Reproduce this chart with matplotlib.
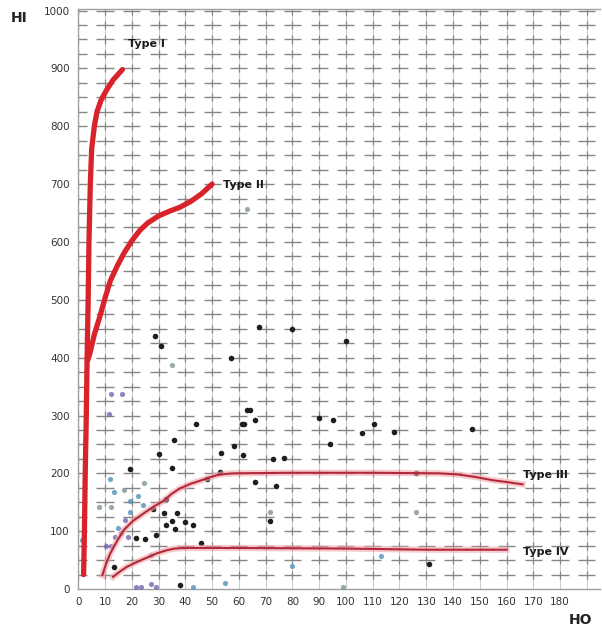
import numpy as np
import matplotlib
matplotlib.use("Agg")
import matplotlib.pyplot as plt

# --- curve data (HO, HI) ---
type1_x = [2, 2.3, 2.6, 3, 3.3, 3.7, 4, 4.5, 5, 6, 7, 8.5, 10.5, 13, 16.5]
type1_y = [25, 100, 200, 300, 400, 500, 600, 700, 760, 800, 825, 845, 862, 880, 898]

type2_x = [3.5, 4.5, 6, 8, 10, 12, 14.5, 17, 20, 23, 26, 30, 34, 38, 42, 46, 50]
type2_y = [395, 410, 440, 470, 503, 533, 558, 580, 602, 620, 633, 645, 653, 660, 670, 683, 700]

type3_x = [9, 10.5, 12, 14.5, 17, 20.5, 24.5, 28, 32, 35, 38, 42, 46, 49, 52, 55, 58,
           80, 110, 135, 142, 148, 155, 160, 166]
type3_y = [24, 45, 62, 83, 102, 118, 131, 142, 153, 165, 174, 182, 188, 193, 197, 199, 200,
           201, 201, 200, 198, 194, 188, 185, 181]

type4_x = [13, 15.5, 18, 22, 26, 29.5, 33, 36, 39.5, 60, 100, 130, 160]
type4_y = [21, 30, 38, 47, 55, 62, 67, 70, 71, 71, 70, 68, 68]

# --- scatter points ---
black_x = [28.5, 31, 57, 44, 35.6, 58, 63, 61, 67.4, 80, 100, 64, 66, 62, 90, 95,
           110.5, 106, 118, 147, 94, 61.4, 72.7, 77, 126, 66, 74, 71.5, 131,
           30, 19.5, 35, 53.5, 53, 48, 32.6, 28, 32, 37, 35, 39.7, 43, 32.6,
           36.3, 29, 21.7, 25, 46, 13.5, 38]
black_y = [438, 421, 400, 286, 257, 248, 309, 286, 453, 450, 428, 309, 293, 286, 295, 293,
           286, 269, 272, 276, 250, 231, 224, 226, 200, 185, 178, 117, 43,
           234, 207, 210, 235, 202, 190, 155, 138, 131, 131, 117, 116, 110, 110,
           103, 93, 88, 86, 79, 38, 7]

gray_x = [35, 71.5, 126, 99, 17, 24.7, 7.8, 12.4, 63]
gray_y = [388, 133, 133, 3, 172, 183, 141, 141, 657]

teal_x = [113, 80, 12, 13.5, 19.5, 22.5, 24.3, 19.5, 15, 43, 55, 27, 1.5]
teal_y = [57, 40, 191, 167, 153, 160, 145, 133, 105, 3, 10, 59, 84]

purple_x = [12.4, 16.5, 11.6, 17.6, 16, 13.9, 10.5, 12.4, 18.7, 21.4, 23.6, 27, 29]
purple_y = [338, 338, 303, 119, 97, 90, 74, 74, 90, 3, 3, 9, 3]

x_ticks = np.arange(0, 190, 10)
y_ticks = np.arange(0, 1100, 100)
x_tick_labels = [str(v) for v in x_ticks]

fig = plt.figure(figsize=(6.02, 6.30), dpi=100)
ax = fig.add_axes([0.130, 0.065, 0.867, 0.921])
ax.set_xlim(0, 195)
ax.set_ylim(0, 1003)

# graph-paper style grid: light vertical lines, dashed crosses on every 25
grid_x = np.arange(0, 200, 10)
grid_y = np.arange(25, 1001, 25)
ax.vlines(grid_x[1:], 0, 1003, color="#cdcdcd", lw=0.8, zorder=0)
gx, gy = np.meshgrid(grid_x, grid_y)
ax.hlines(gy.ravel(), gx.ravel() - 3.2, gx.ravel() + 3.2, color="#858585", lw=1.0, zorder=0)
ax.vlines(gx.ravel(), gy.ravel() - 7, gy.ravel() + 7, color="#858585", lw=0.9, zorder=0)

# scatter
ax.scatter(black_x, black_y, s=16, color="#1e1e1e", zorder=3, linewidths=0)
ax.scatter(gray_x, gray_y, s=14, color="#7d9494", alpha=0.8, zorder=3, linewidths=0)
ax.scatter(teal_x, teal_y, s=14, color="#4f93b4", alpha=0.8, zorder=3, linewidths=0)
ax.scatter(purple_x, purple_y, s=14, color="#7467b0", alpha=0.8, zorder=3, linewidths=0)

# curves
ax.plot(type1_x, type1_y, color="#d8232a", lw=3.8, solid_capstyle="round",
        solid_joinstyle="round", zorder=4)
ax.plot(type2_x, type2_y, color="#d8232a", lw=3.8, solid_capstyle="round",
        solid_joinstyle="round", zorder=4)
for cx, cy in [(type3_x, type3_y), (type4_x, type4_y)]:
    ax.plot(cx, cy, color="#f2a9ad", lw=4.5, alpha=0.6, zorder=4)
    ax.plot(cx, cy, color="#b3283a", lw=1.5, zorder=5)

# labels
lab = dict(fontsize=8, fontweight="bold", color="#1a1a1a", zorder=6)
ax.text(18.5, 942, "Type I", ha="left", va="center", **lab)
ax.text(54, 698, "Type II", ha="left", va="center", **lab)
ax.text(166, 198, "Type III", ha="left", va="center", **lab)
ax.text(166, 64, "Type IV", ha="left", va="center", **lab)

ax.set_xticks(x_ticks)
ax.set_xticklabels(x_tick_labels)
ax.set_yticks(y_ticks)
ax.tick_params(length=0, labelsize=7.5, labelcolor="#333333", pad=6)
ax.spines["right"].set_visible(False)
for sp in ["left", "bottom", "top"]:
    ax.spines[sp].set_color("#a0a0a0")
    ax.spines[sp].set_linewidth(1.0)

fig.text(0.018, 0.972, "HI", fontsize=10, fontweight="bold", color="#222222", ha="left", va="center")
fig.text(0.965, 0.016, "HO", fontsize=10, fontweight="bold", color="#222222", ha="center", va="center")

fig.savefig("out.png", dpi=100)
